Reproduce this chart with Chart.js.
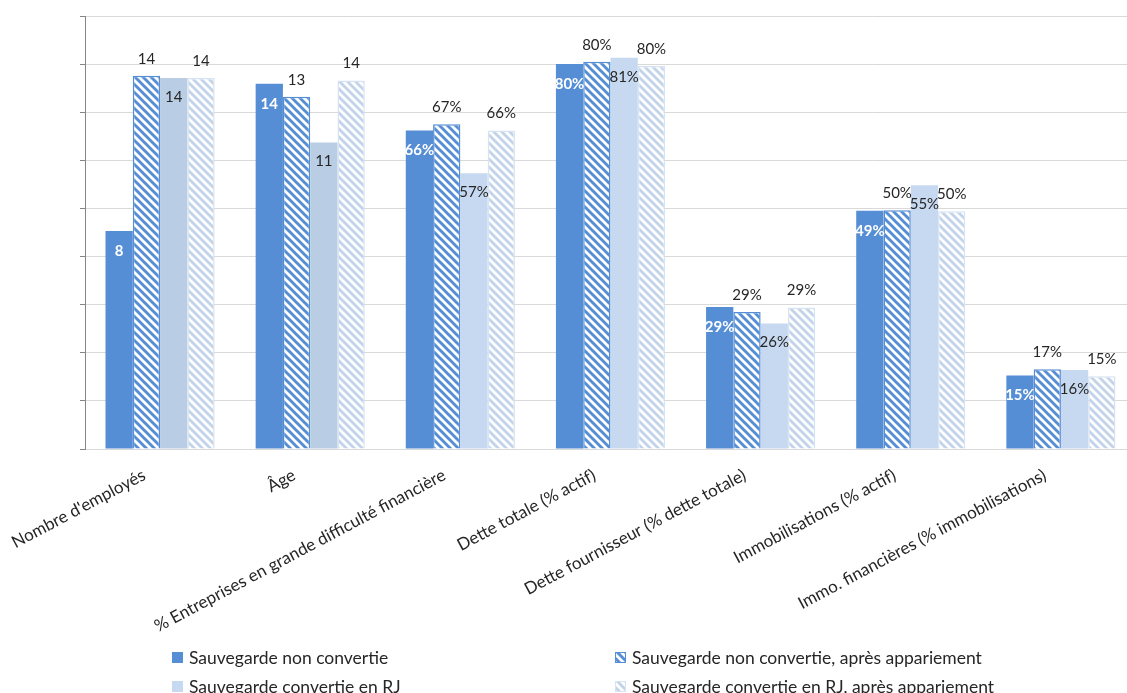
<!DOCTYPE html>
<html>
<head>
<meta charset="utf-8">
<script src="https://cdn.jsdelivr.net/npm/chart.js@4.4.1/dist/chart.umd.min.js"></script>
<style>
html, body { margin: 0; padding: 0; background: #fff; overflow: hidden; }
#wrap { position: relative; width: 1127px; height: 693px; overflow: hidden; }
#barChart { position: absolute; left: 0; top: 0; }
.legend { position: absolute; font-family: Lato, sans-serif; font-size: 17.5px; color: #262626;
  display: flex; align-items: center; white-space: nowrap; height: 20px; }
.legend canvas { margin-right: 6px; }
</style>
</head>
<body>
<div id="wrap">
  <canvas id="barChart" width="1136" height="693"></canvas>
  <div class="legend" style="left:172px;top:647px"><canvas id="sw0" width="11" height="11"></canvas>Sauvegarde non convertie</div>
  <div class="legend" style="left:615px;top:647px"><canvas id="sw1" width="11" height="11"></canvas>Sauvegarde non convertie, après appariement</div>
  <div class="legend" style="left:172px;top:676px"><canvas id="sw2" width="11" height="11"></canvas>Sauvegarde convertie en RJ</div>
  <div class="legend" style="left:615px;top:676px"><canvas id="sw3" width="11" height="11"></canvas>Sauvegarde convertie en RJ, après appariement</div>
</div>
<script>
// categories
const categories = [
  "Nombre d'employés",
  'Âge',
  '% Entreprises en grande difficulté financière',
  'Dette totale (% actif)',
  'Dette fournisseur (% dette totale)',
  'Immobilisations (% actif)',
  'Immo. financières (% immobilisations)'
];

const seriesNames = [
  'Sauvegarde non convertie',
  'Sauvegarde non convertie, après appariement',
  'Sauvegarde convertie en RJ',
  'Sauvegarde convertie en RJ, après appariement'
];

// bar heights (chart units, one gridline = 10)
const nonConvertie = [45.3, 75.9, 66.2, 80.0, 29.5, 49.5, 15.3];
const nonConvertieApp = [77.6, 73.2, 67.5, 80.5, 28.5, 49.6, 16.6];
const convertieRJ = [77.1, 63.7, 57.3, 81.3, 26.1, 54.8, 16.4];
const convertieRJApp = [77.1, 76.6, 66.2, 79.6, 29.4, 49.4, 15.1];

// value labels shown on the bars
const labelsNonConvertie = ['8', '14', '66%', '80%', '29%', '49%', '15%'];
const labelsNonConvertieApp = ['14', '13', '67%', '80%', '29%', '50%', '17%'];
const labelsConvertieRJ = ['14', '11', '57%', '81%', '26%', '55%', '16%'];
const labelsConvertieRJApp = ['14', '14', '66%', '80%', '29%', '50%', '15%'];

const labelSets = [labelsNonConvertie, labelsNonConvertieApp, labelsConvertieRJ, labelsConvertieRJApp];

const FONT = 'Lato, sans-serif';

// diagonal hatch pattern
function stripes(bg, fg) {
  const c = document.createElement('canvas');
  c.width = 8; c.height = 8;
  const g = c.getContext('2d');
  g.fillStyle = bg;
  g.fillRect(0, 0, 8, 8);
  g.strokeStyle = fg;
  g.lineWidth = 2.9;
  [-6, 2, 10].forEach(k => {
    g.beginPath();
    g.moveTo(k - 3, -3);
    g.lineTo(k + 11, 11);
    g.stroke();
  });
  return g.createPattern(c, 'repeat');
}

const darkBlue = '#558ed5';
const lightBlueA = '#b9cde5';
const lightBlueB = '#c6d9f1';
const hatchDark = stripes('#ffffff', darkBlue);
const hatchLight = stripes('#ffffff', '#c3d4ea');

const lightColors = categories.map((c, i) => i < 2 ? lightBlueA : lightBlueB);

// labels drawn on/above bars
const valueLabels = {
  id: 'valueLabels',
  afterDatasetsDraw(chart) {
    const ctx = chart.ctx;
    chart.data.datasets.forEach((ds, i) => {
      const meta = chart.getDatasetMeta(i);
      meta.data.forEach((bar, j) => {
        const txt = labelSets[i][j];
        ctx.save();
        ctx.textAlign = 'center';
        ctx.textBaseline = 'middle';
        if (i === 0) {
          ctx.font = 'bold 15px ' + FONT;
          ctx.fillStyle = '#ffffff';
          ctx.fillText(txt, bar.x, bar.y + 20);
        } else if (i === 2) {
          ctx.font = '15px ' + FONT;
          ctx.fillStyle = '#262626';
          ctx.fillText(txt, bar.x, bar.y + 19);
        } else {
          ctx.font = '15px ' + FONT;
          ctx.fillStyle = '#262626';
          ctx.fillText(txt, bar.x, bar.y - 17);
        }
        ctx.restore();
      });
    });
  }
};

const ctx = document.getElementById('barChart').getContext('2d');

new Chart(ctx, {
  type: 'bar',
  data: {
    labels: categories,
    datasets: [
      { label: seriesNames[0], data: nonConvertie, backgroundColor: darkBlue, borderWidth: 0 },
      { label: seriesNames[1], data: nonConvertieApp, backgroundColor: hatchDark, borderColor: darkBlue, borderWidth: 1.5 },
      { label: seriesNames[2], data: convertieRJ, backgroundColor: lightColors, borderWidth: 0 },
      { label: seriesNames[3], data: convertieRJApp, backgroundColor: hatchLight, borderColor: '#d6e3f3', borderWidth: 1.5 }
    ]
  },
  options: {
    responsive: false,
    animation: false,
    events: [],
    layout: { padding: { top: 16, left: 0, right: 0, bottom: 0 } },
    datasets: {
      bar: { categoryPercentage: 0.727, barPercentage: 1.0 }
    },
    plugins: {
      legend: { display: false },
      tooltip: { enabled: false }
    },
    scales: {
      x: {
        grid: { display: true, drawOnChartArea: false, drawTicks: false },
        border: { color: '#d9d9d9', width: 1 },
        ticks: {
          autoSkip: false,
          minRotation: 28,
          maxRotation: 28,
          padding: 16,
          labelOffset: -16,
          color: '#262626',
          font: { family: FONT, size: 17 }
        },
        afterFit(s) { s.height = 693 - 449; }
      },
      y: {
        min: 0,
        max: 90,
        ticks: { stepSize: 10, display: false },
        grid: { color: '#d9d9d9', tickColor: '#868686', tickLength: 5, lineWidth: 1 },
        border: { color: '#868686', width: 1 },
        afterFit(s) { s.width = 85; }
      }
    }
  },
  plugins: [valueLabels]
});

// legend swatches
function swatch(id, fill, stroke) {
  const g = document.getElementById(id).getContext('2d');
  g.fillStyle = fill;
  g.fillRect(0, 0, 11, 11);
  if (stroke) {
    g.strokeStyle = stroke;
    g.lineWidth = 1;
    g.strokeRect(0.5, 0.5, 10, 10);
  }
}
swatch('sw0', darkBlue);
swatch('sw1', hatchDark, darkBlue);
swatch('sw2', lightBlueB);
swatch('sw3', hatchLight, '#d6e3f3');
</script>
</body>
</html>
